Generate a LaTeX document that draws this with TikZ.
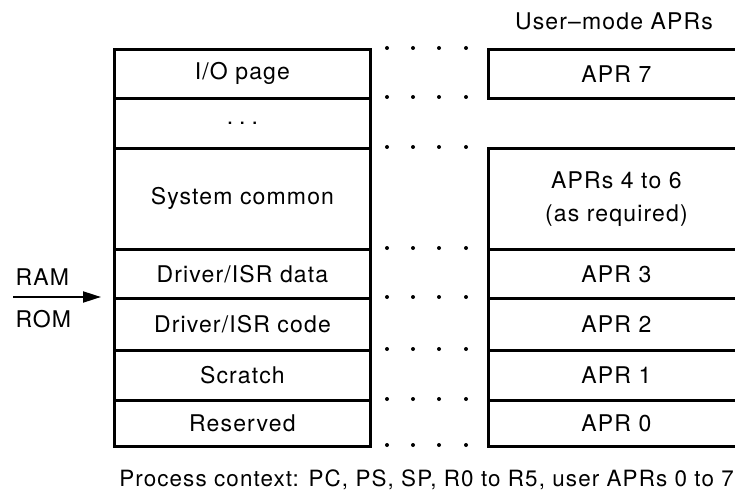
\documentclass[tikz,border=0pt]{standalone}
\usepackage{fontspec}
\setmainfont{TeX Gyre Heros}[LetterSpace=5]
\usetikzlibrary{arrows.meta}
\begin{document}
\begin{tikzpicture}[x=1pt,y=-1pt,
  txt/.style={font=\fontsize{23}{28}\selectfont},
  cell/.style={txt,draw,line width=2.8pt,minimum width=256pt,anchor=north west,inner sep=0pt,align=center},
  dot/.style={circle,fill,inner sep=0pt,minimum size=4pt}]
\useasboundingbox (0,0) rectangle (735,494);
% left column
\node[cell,minimum height=49pt]  (io)  at (113,48)  {I/O page};
\node[cell,minimum height=50pt]  (etc) at (113,97)  {.\hspace{6pt}.\hspace{6pt}.};
\node[cell,minimum height=101pt] (sys) at (113,147) {System common};
\node[cell,minimum height=49pt]  (dd)  at (113,248) {Driver/ISR data};
\node[cell,minimum height=52pt]  (dc)  at (113,297) {Driver/ISR code};
\node[cell,minimum height=50pt]  (scr) at (113,349) {Scratch};
\node[cell,minimum height=46pt]  (res) at (113,399) {Reserved};
% right column (cut off at the right edge)
\begin{scope}
\clip (0,0) rectangle (735,494);
\node[cell,minimum height=49pt]  (a7)  at (487,48)  {APR 7};
\node[cell,minimum height=101pt] (a46) at (487,147) {APRs 4 to 6\\[5pt](as required)};
\node[cell,minimum height=49pt]  (a3)  at (487,248) {APR 3};
\node[cell,minimum height=52pt]  (a2)  at (487,297) {APR 2};
\node[cell,minimum height=50pt]  (a1)  at (487,349) {APR 1};
\node[cell,minimum height=46pt]  (a0)  at (487,399) {APR 0};
\end{scope}
% dotted links
\foreach \yy [count=\i] in {48,97,147,248,297,349,399,445}{
  \foreach \xx [count=\j] in {387,413,439,466}{
    \node[dot] (d\i-\j) at (\xx,\yy) {};
  }
}
% labels
\node[txt] (um) at (614,21) {User--mode APRs};
\node[txt,anchor=west] (ram) at (12,277) {RAM};
\node[txt,anchor=west] (rom) at (12,319) {ROM};
\coordinate (as) at (13,297);
\coordinate (ae) at (101,297);
\draw[line width=2pt,-{Triangle[length=18pt,width=11pt]}] (as) -- (ae);
\node[font=\fontsize{22.4}{28}\selectfont,anchor=base east,inner xsep=1pt] (pc) at (735,486) {Process context: PC, PS, SP, R0 to R5, user APRs 0 to 7};
\end{tikzpicture}
\end{document}
